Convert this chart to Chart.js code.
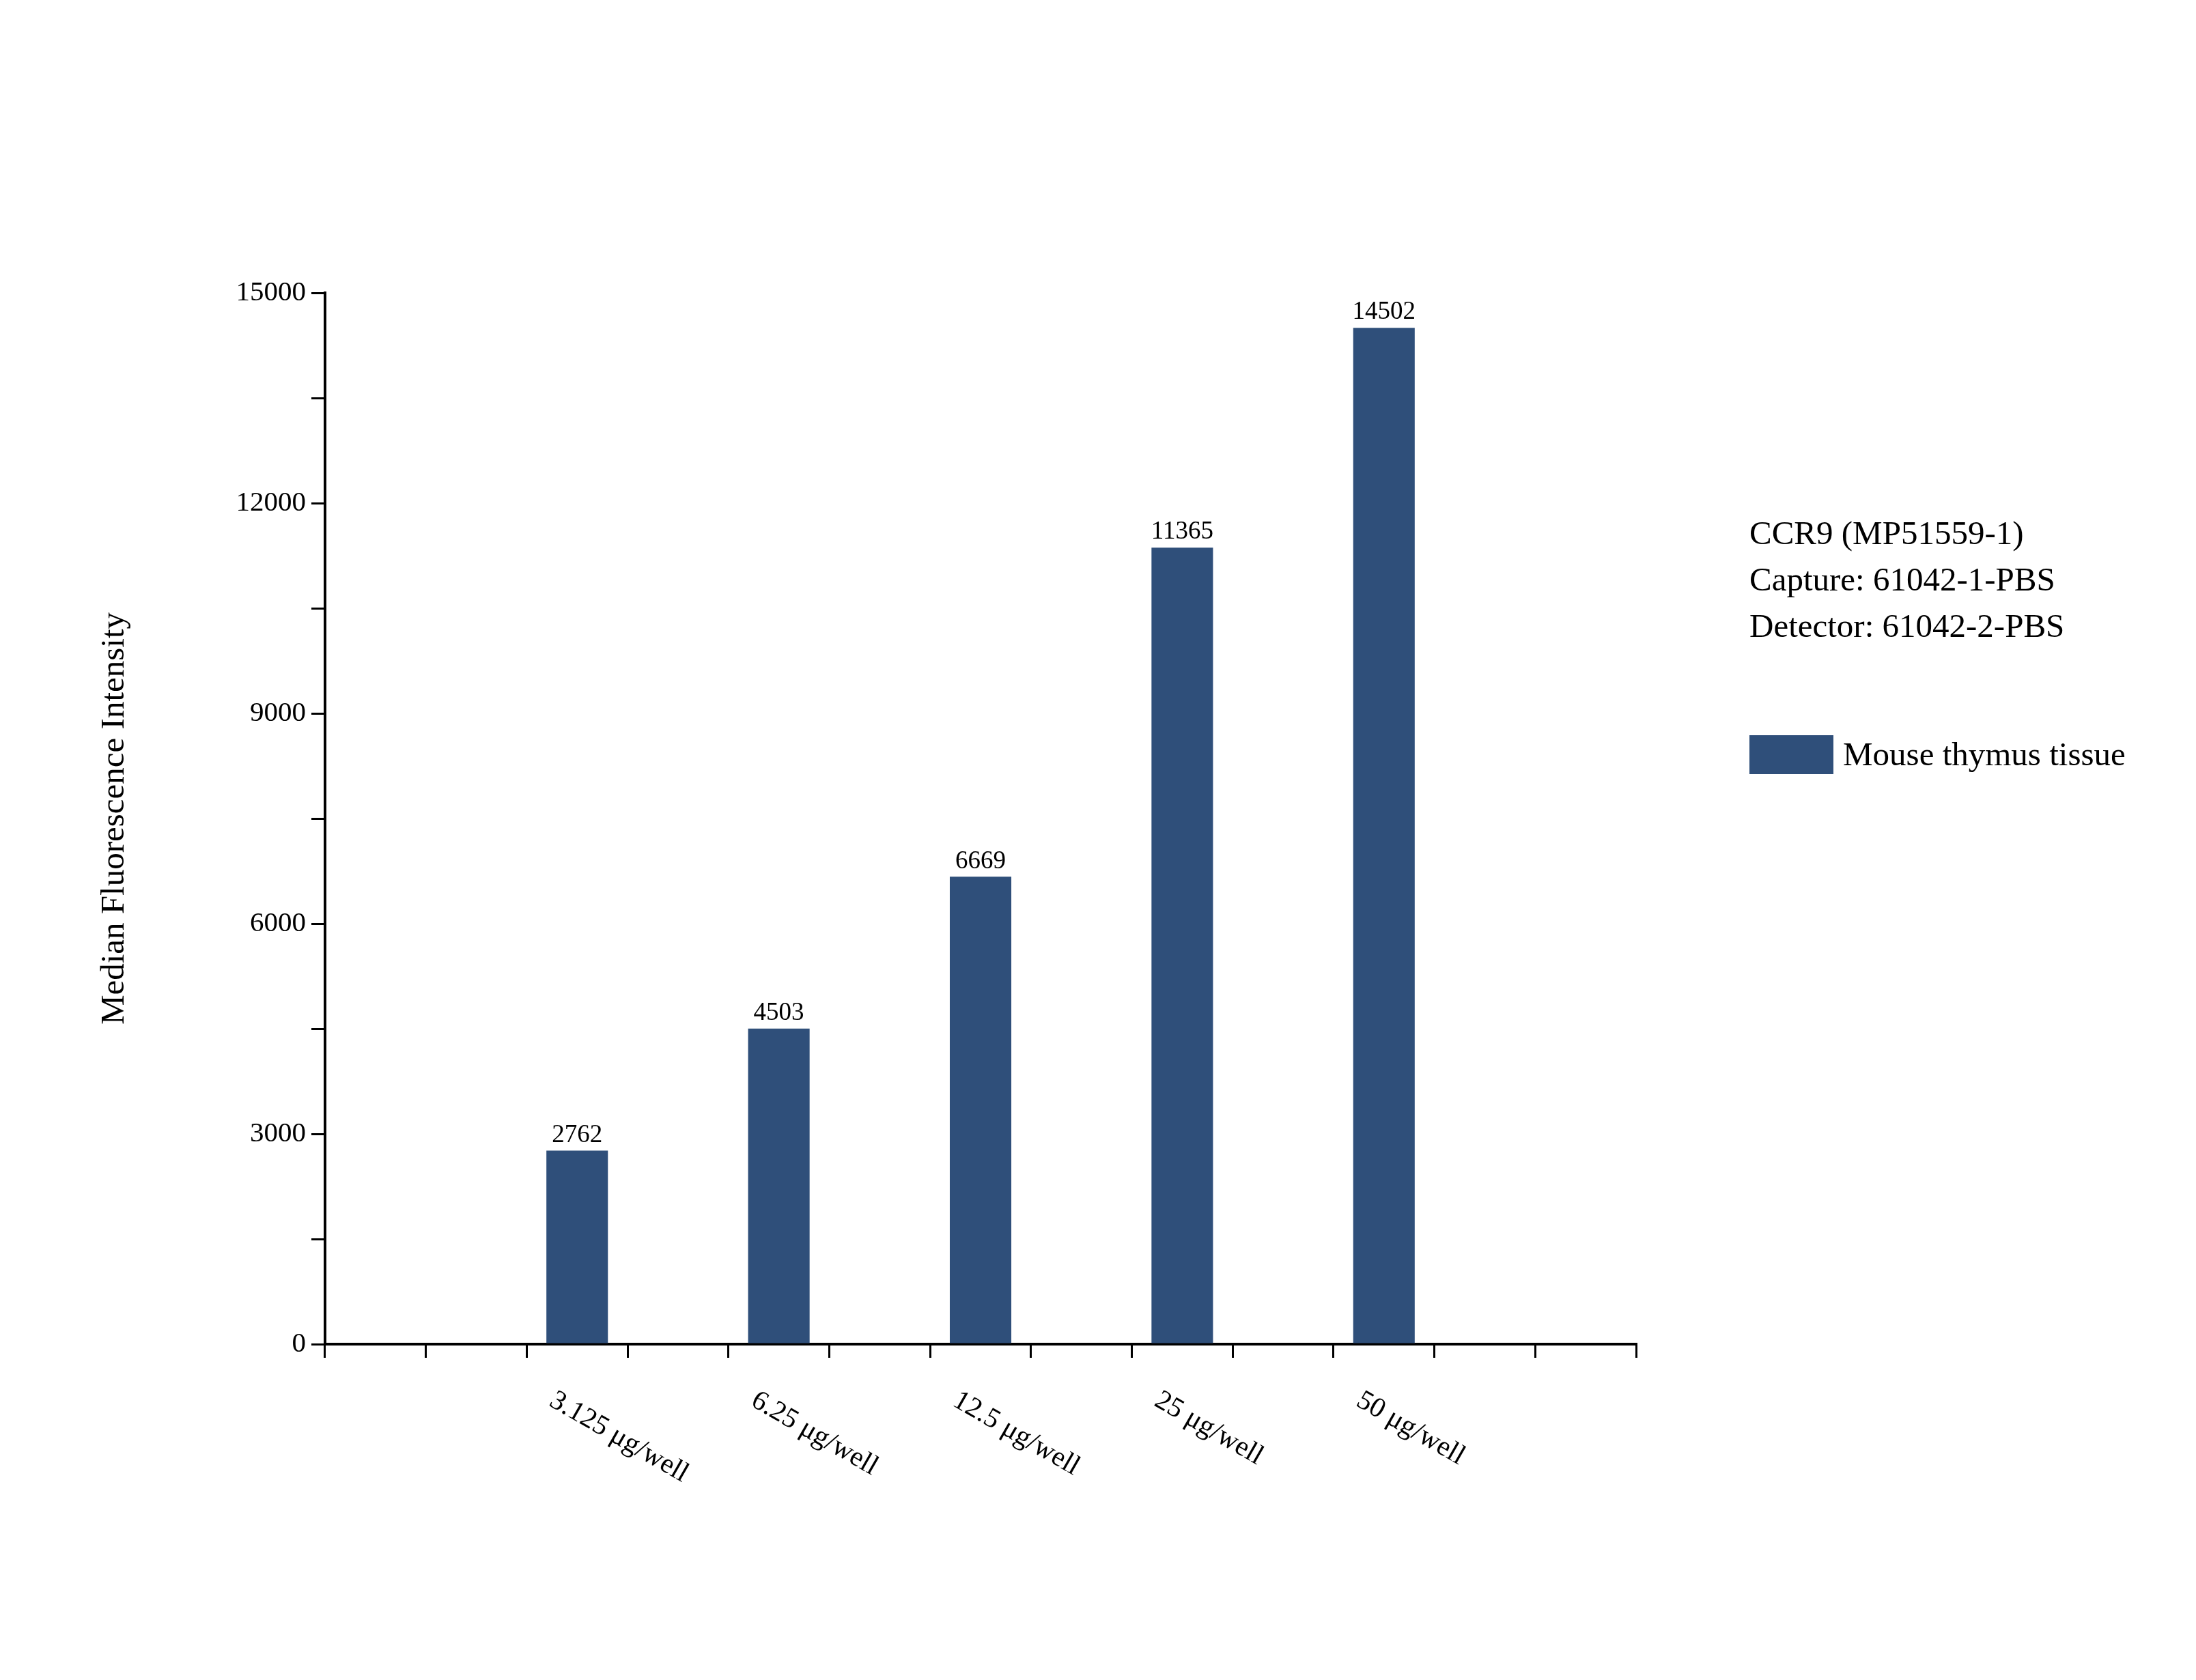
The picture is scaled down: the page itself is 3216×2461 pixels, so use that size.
<!DOCTYPE html>
<html>
<head>
<meta charset="utf-8">
<script src="https://cdn.jsdelivr.net/npm/chart.js@4"></script>
<style>
  html, body { margin: 0; padding: 0; background: #fff; }
  #wrap { width: 3216px; height: 2461px; }
</style>
</head>
<body>
<div id="wrap"><canvas id="chart" width="3216" height="2461"></canvas></div>
<script>
const categories = ["3.125 μg/well", "6.25 μg/well", "12.5 μg/well", "25 μg/well", "50 μg/well"];
const values = [2762, 4503, 6669, 11365, 14502];
const yTicks = [0, 3000, 6000, 9000, 12000, 15000];
const seriesName = "Mouse thymus tissue";
const infoLines = ["CCR9 (MP51559-1)", "Capture: 61042-1-PBS", "Detector: 61042-2-PBS"];

const barColor = "#2f4f7a";
const font = "'Liberation Serif', 'Times New Roman', serif";

const textPlugin = {
  id: "texts",
  afterDraw(chart) {
    const ctx = chart.ctx;
    const xs = chart.scales.x, ys = chart.scales.y;
    ctx.save();
    ctx.fillStyle = "#000";

    // value labels
    ctx.font = "37px " + font;
    ctx.textAlign = "center";
    ctx.textBaseline = "bottom";
    values.forEach((v, i) => {
      ctx.fillText(String(v), xs.getPixelForValue(i + 1), ys.getPixelForValue(v) - 4);
    });

    // rotated category labels
    ctx.font = "41px " + font;
    ctx.textAlign = "left";
    ctx.textBaseline = "top";
    categories.forEach((c, i) => {
      const x = xs.getPixelForValue(i + 1);
      ctx.save();
      ctx.translate(x - 27, ys.bottom + 62);
      ctx.rotate(Math.PI / 6);
      ctx.fillText(c, 0, 0);
      ctx.restore();
    });

    // y title
    ctx.save();
    ctx.font = "49px " + font;
    ctx.textAlign = "center";
    ctx.textBaseline = "middle";
    ctx.translate(168, (ys.top + ys.bottom) / 2);
    ctx.rotate(-Math.PI / 2);
    ctx.fillText("Median Fluorescence Intensity", 0, 0);
    ctx.restore();

    // info + legend
    ctx.font = "49px " + font;
    ctx.textAlign = "left";
    ctx.textBaseline = "middle";
    infoLines.forEach((t, i) => ctx.fillText(t, 2562, 784 + i * 68));
    ctx.fillStyle = barColor;
    ctx.fillRect(2562, 1077, 123, 57);
    ctx.fillStyle = "#000";
    ctx.fillText(seriesName, 2699, 1108);
    ctx.restore();
  }
};

new Chart(document.getElementById("chart"), {
  type: "bar",
  data: {
    datasets: [{
      label: seriesName,
      data: values.map((v, i) => ({ x: i + 1, y: v })),
      backgroundColor: barColor,
      barPercentage: 0.61,
      categoryPercentage: 1
    }]
  },
  options: {
    responsive: false,
    animation: false,
    devicePixelRatio: 1,
    layout: { padding: { left: 0, top: 429, right: 820, bottom: 0 } },
    plugins: { legend: { display: false }, tooltip: { enabled: false } },
    scales: {
      x: {
        type: "linear",
        min: 0, max: 6,
        ticks: { stepSize: 0.5, callback: () => "", font: { size: 1 } },
        grid: { drawOnChartArea: false, color: "#000", lineWidth: 3, tickLength: 20 },
        border: { color: "#000", width: 4 },
        afterFit(s) { s.height = 492; }
      },
      y: {
        min: 0, max: 15000,
        ticks: {
          stepSize: 1500,
          color: "#000",
          font: { family: font, size: 41 },
          padding: 8,
          callback: v => yTicks.includes(v) ? String(v) : ""
        },
        grid: { drawOnChartArea: false, color: "#000", lineWidth: 3, tickLength: 20 },
        border: { color: "#000", width: 4 },
        afterFit(s) { s.width = 476; }
      }
    }
  },
  plugins: [textPlugin]
});
</script>
</body>
</html>
